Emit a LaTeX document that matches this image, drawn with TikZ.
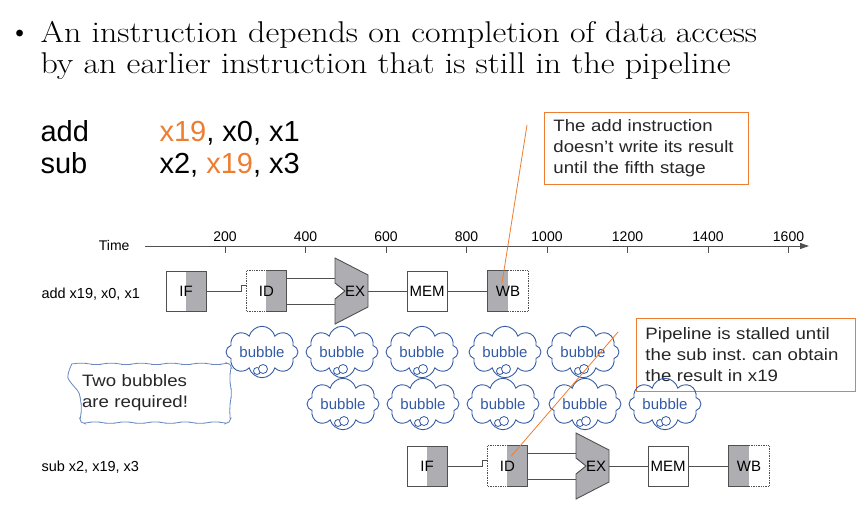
\documentclass[tikz,border=0pt]{standalone}
\usepackage{fontspec}
\setsansfont{Liberation Sans}
\newfontfamily\widesans[FakeStretch=1.13]{Liberation Sans}
\newfontfamily\titlefont[FakeStretch=1.13]{Latin Modern Roman}
\usetikzlibrary{arrows.meta, shapes.symbols, decorations.pathmorphing, positioning}

\definecolor{hlorange}{RGB}{237,125,49}
\definecolor{stagegray}{RGB}{174,174,178}
\definecolor{wiregray}{RGB}{80,80,80}
\definecolor{bubbleblue}{RGB}{50,90,165}
\definecolor{noteblue}{RGB}{105,135,190}

\tikzset{
  stagebox/.style={minimum width=40pt, minimum height=40pt, inner sep=0pt,
    font=\sffamily\fontsize{15}{15}\selectfont},
  wire/.style={draw=wiregray, line width=0.9pt},
  bubblecloud/.style={cloud, cloud puffs=8, aspect=1.8, draw=bubbleblue, line width=0.9pt,
    minimum width=72pt, minimum height=38pt, inner sep=0pt, text=bubbleblue,
    font=\sffamily\fontsize{15}{15}\selectfont},
  callout/.style={draw=hlorange, line width=0.9pt, align=left, inner xsep=9pt, anchor=north west,
    font=\widesans\fontsize{16.5}{21}\selectfont, text=black!85},
  smalltext/.style={font=\sffamily\fontsize{14.5}{14.5}\selectfont, anchor=base west},
}

\begin{document}
\begin{tikzpicture}[x=1pt, y=-1pt]
  \useasboundingbox (0,0) rectangle (856,508);

  % bullet text
  \node[anchor=base east, font=\fontsize{30}{30}\selectfont] (bullet) at (34,42) {\textbullet};
  \node[anchor=base west, font=\titlefont\fontsize{30}{30}\selectfont] (title1) at (37,43)
    {An instruction depends on completion of data access};
  \node[anchor=base west, font=\titlefont\fontsize{30}{30}\selectfont] (title2) at (37,74)
    {by an earlier instruction that is still in the pipeline};

  % the two instructions
  \node[anchor=base west, font=\sffamily\fontsize{29}{29}\selectfont] (addop) at (37,141) {add};
  \node[anchor=base west, font=\sffamily\fontsize{29}{29}\selectfont] (addargs) at (156,141)
    {\textcolor{hlorange}{x19}, x0, x1};
  \node[anchor=base west, font=\sffamily\fontsize{29}{29}\selectfont] (subop) at (37,173) {sub};
  \node[anchor=base west, font=\sffamily\fontsize{29}{29}\selectfont] (subargs) at (156,173)
    {x2, \textcolor{hlorange}{x19}, x3};

  % time axis
  \node[anchor=base east, font=\sffamily\fontsize{14}{14}\selectfont] (timelbl) at (133,250) {Time};
  \coordinate (axis-start) at (145,246);
  \coordinate (axis-end) at (809,246);
  \draw[wire, -{Triangle[length=9pt, width=6pt]}] (axis-start) -- (axis-end);
  \foreach \t in {200,400,...,1600} {
    \draw[wire] ({225+(\t-200)*0.4025},246) -- ++(0,7);
    \node[anchor=base, font=\sffamily\fontsize{14}{14}\selectfont] (tick\t) at ({225+(\t-200)*0.4025},241) {\t};
  }

  % row labels
  \node[smalltext] (addlbl) at (38,298) {add x19, x0, x1};
  \node[smalltext] (sublbl) at (38,471) {sub x2, x19, x3};

  % pipelines: IF centre x, row centre y
  \foreach \row/\x/\y in {a/186/291, s/427/466} {
    \node[stagebox, draw=wiregray, line width=0.9pt,
      path picture={\fill[stagegray] (path picture bounding box.south) rectangle (path picture bounding box.north east);}]
      (\row-IF) at (\x,\y) {IF};
    \node[stagebox,
      path picture={\fill[stagegray] (path picture bounding box.south) rectangle (path picture bounding box.north east);}]
      (\row-ID) at (\x+80.4,\y) {ID};
    \draw[wiregray, line width=0.9pt] (\row-ID.north) -| (\row-ID.south east) -- (\row-ID.south);
    \draw[wiregray, line width=0.7pt, densely dotted] (\row-ID.north) -| (\row-ID.south west) -- (\row-ID.south);
    \begin{scope}[shift={(\x+161,\y)}]
      \draw[wiregray, fill=stagegray, line width=0.9pt]
        (-12,-33) -- (21,-16) -- (21,16) -- (-12,33) -- (-12,8) -- (-2,0) -- (-12,-8) -- cycle;
      \node[font=\sffamily\fontsize{15}{15}\selectfont] (\row-EX) at (8,0) {EX};
      \coordinate (\row-EXin1) at (-12,-13);
      \coordinate (\row-EXin2) at (-12,13);
      \coordinate (\row-EXout) at (21,0);
    \end{scope}
    \node[stagebox, draw=wiregray, line width=0.9pt] (\row-MEM) at (\x+241,\y) {MEM};
    \node[stagebox,
      path picture={\fill[stagegray] (path picture bounding box.south west) rectangle (path picture bounding box.north);}]
      (\row-WB) at (\x+322,\y) {WB};
    \draw[wiregray, line width=0.9pt] (\row-WB.north) -| (\row-WB.south west) -- (\row-WB.south);
    \draw[wiregray, line width=0.7pt, densely dotted] (\row-WB.north) -| (\row-WB.south east) -- (\row-WB.south);
    % connectors
    \draw[wire] (\row-IF.east) -- ([xshift=-5pt]\row-ID.west) -- ++(0,-6) -- ++(5,0);
    \draw[wire] (\row-ID.east |- \row-EXin1) -- (\row-EXin1);
    \draw[wire] (\row-ID.east |- \row-EXin2) -- (\row-EXin2);
    \draw[wire] (\row-EXout) -- (\row-MEM.west);
    \draw[wire] (\row-MEM.east) -- (\row-WB.west);
  }

  % callouts
  \node[callout, text width=186pt, minimum height=72pt] (noteA) at (544,112)
    {The add instruction\\doesn’t write its result\\until the fifth stage};
  \node[callout, text width=201pt, minimum height=73pt] (noteB) at (636,318)
    {Pipeline is stalled until\\the sub inst.\ can obtain\\the result in x19};
  \node[minimum width=155pt, minimum height=58pt, text width=127pt, align=left,
    font=\widesans\fontsize{16.5}{21}\selectfont, text=black!85] (twonote) at (145.5,393)
    {Two bubbles\\are required!};
  \draw[noteblue, line width=0.8pt, rounded corners=4pt, decorate,
    decoration={snake, amplitude=0.6pt, segment length=30pt}]
    (twonote.north west) -- (twonote.north east) -- (twonote.south east)
    -- (twonote.south west) -- cycle;

  % bubbles
  \foreach \bx [count=\i] in {262,342,422,505,583} {
    \node[bubblecloud] (bubA\i) at (\bx,352) {bubble};
    \draw[bubbleblue, fill=white, line width=0.8pt] (\bx-5,371) circle (3.5pt);
    \draw[bubbleblue, fill=white, line width=0.8pt] (\bx+1,369) circle (4.5pt);
  }
  \foreach \bx [count=\i] in {343,423,503,585,665} {
    \node[bubblecloud] (bubB\i) at (\bx,404) {bubble};
    \draw[bubbleblue, fill=white, line width=0.8pt] (\bx-5,423) circle (3.5pt);
    \draw[bubbleblue, fill=white, line width=0.8pt] (\bx+1,421) circle (4.5pt);
  }

  % pointer lines
  \coordinate (noteA-end) at (527,125);
  \coordinate (noteB-end) at (618,332);
  \draw[hlorange, line width=0.8pt] (noteA-end) -- ([xshift=-6pt, yshift=8pt]a-WB.center);
  \draw[hlorange, line width=0.8pt] (noteB-end) -- ([xshift=4pt, yshift=10pt]s-ID.center);
\end{tikzpicture}
\end{document}
